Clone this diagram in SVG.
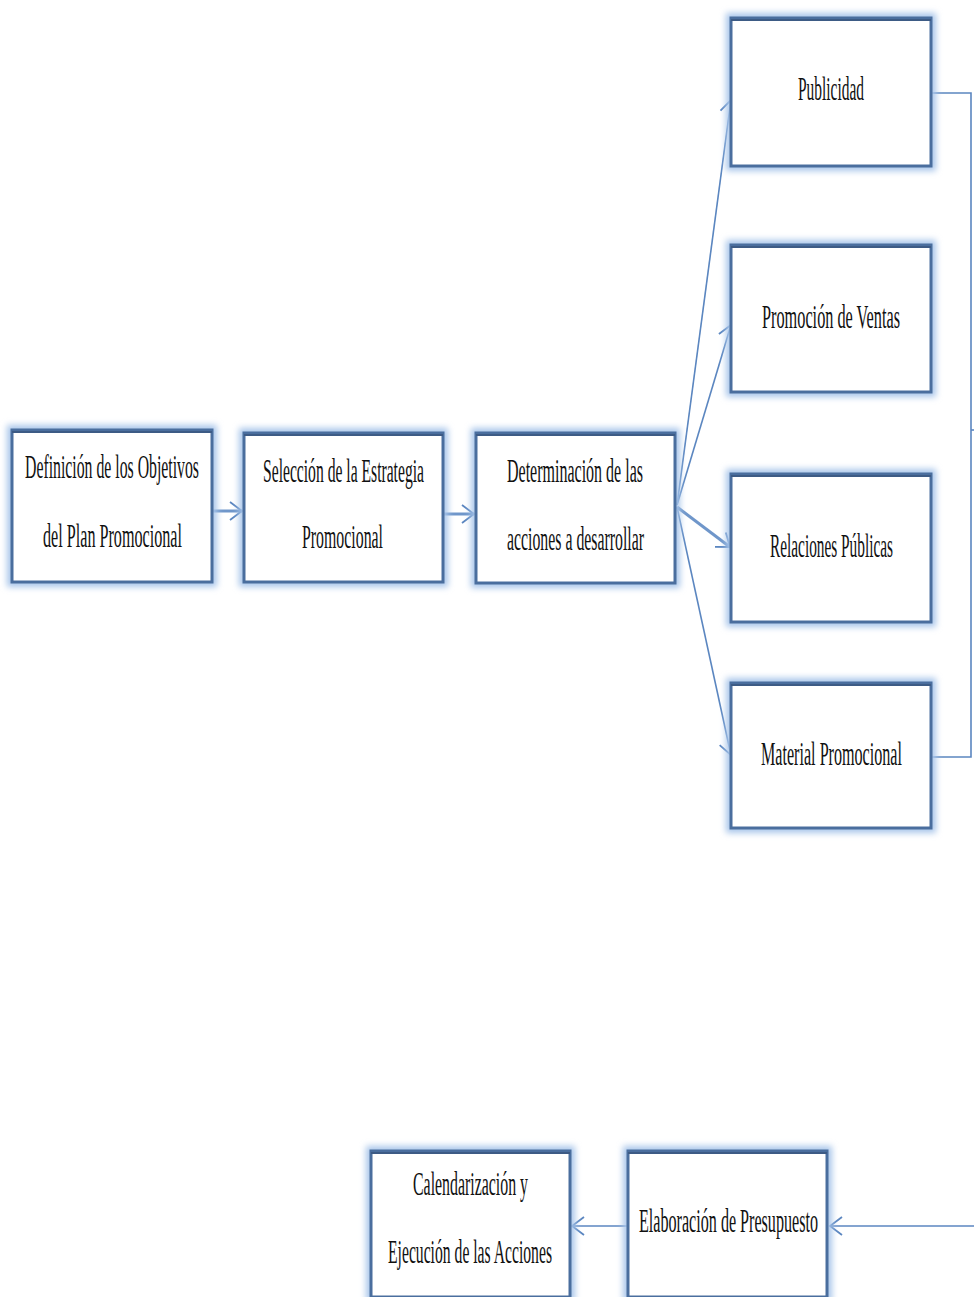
<svg xmlns="http://www.w3.org/2000/svg" width="974" height="1297" viewBox="0 0 974 1297">
<style>
.glow{fill:none;stroke:#A9C6EA;stroke-width:10;filter:url(#blur)}
.box{fill:#FFFFFF;stroke:#4A6E9E;stroke-width:3}
.top{stroke:#3D5B85;stroke-width:2}
.lbl{font-family:"Liberation Serif","Times New Roman",serif;font-size:33px;fill:#111111;text-anchor:middle}
.con{fill:none;stroke:#5B86C0;stroke-width:1.6}
.thick{stroke-width:3;stroke:#6F96CA}
</style>
<defs>
<filter id="blur" x="-20%" y="-20%" width="140%" height="140%"><feGaussianBlur stdDeviation="3"/></filter>
<marker id="arr" markerWidth="16" markerHeight="22" refX="14" refY="11" orient="auto" markerUnits="userSpaceOnUse">
<path d="M2,2 L14,11 L2,20" fill="none" stroke="#5B86C0" stroke-width="1.8"/>
</marker>
</defs>

<g id="connectors">
<path class="con thick" d="M212,511 H242" marker-end="url(#arr)"/>
<path class="con thick" d="M443,514 H474" marker-end="url(#arr)"/>
<path class="con" d="M677,505 L731,100" marker-end="url(#arr)"/>
<path class="con" d="M677,505 L731,325" marker-end="url(#arr)"/>
<path class="con thick" d="M677,507 L730,547" marker-end="url(#arr)"/>
<path class="con" d="M677,507 L731,755" marker-end="url(#arr)"/>
<path class="con" d="M931,93 H971 V757 H931"/>
<path class="con" d="M971,430 H976"/>
<path class="con" d="M976,1226 H830" marker-end="url(#arr)"/>
<path class="con" d="M627,1226 H572" marker-end="url(#arr)"/>
</g>

<g id="n-definicion">
<rect class="glow" x="12" y="430" width="200" height="152"/>
<rect class="box" x="12" y="430" width="200" height="152"/>
<line class="top" x1="12" y1="432" x2="212" y2="432"/>
<text class="lbl" transform="translate(112,478) scale(0.5,1)" x="0" y="0" textLength="348" lengthAdjust="spacingAndGlyphs">Definición de los Objetivos</text>
<text class="lbl" transform="translate(112.5,547) scale(0.5,1)" x="0" y="0" textLength="278" lengthAdjust="spacingAndGlyphs">del Plan  Promocional</text>
</g>

<g id="n-seleccion">
<rect class="glow" x="244" y="433" width="199" height="149"/>
<rect class="box" x="244" y="433" width="199" height="149"/>
<line class="top" x1="244" y1="435" x2="443" y2="435"/>
<text class="lbl" transform="translate(343.5,482) scale(0.5,1)" x="0" y="0" textLength="322" lengthAdjust="spacingAndGlyphs">Selección de la Estrategia</text>
<text class="lbl" transform="translate(342.5,548) scale(0.5,1)" x="0" y="0" textLength="162" lengthAdjust="spacingAndGlyphs">Promocional</text>
</g>

<g id="n-determinacion">
<rect class="glow" x="476" y="433" width="199" height="150"/>
<rect class="box" x="476" y="433" width="199" height="150"/>
<line class="top" x1="476" y1="435" x2="675" y2="435"/>
<text class="lbl" transform="translate(575,482) scale(0.5,1)" x="0" y="0" textLength="272" lengthAdjust="spacingAndGlyphs">Determinación de las</text>
<text class="lbl" transform="translate(575.5,550) scale(0.5,1)" x="0" y="0" textLength="274" lengthAdjust="spacingAndGlyphs">acciones a desarrollar</text>
</g>

<g id="n-publicidad">
<rect class="glow" x="731" y="18" width="200" height="148"/>
<rect class="box" x="731" y="18" width="200" height="148"/>
<line class="top" x1="731" y1="20" x2="931" y2="20"/>
<text class="lbl" transform="translate(831,100) scale(0.5,1)" x="0" y="0" textLength="132" lengthAdjust="spacingAndGlyphs">Publicidad</text>
</g>

<g id="n-promocion">
<rect class="glow" x="731" y="245" width="200" height="147"/>
<rect class="box" x="731" y="245" width="200" height="147"/>
<line class="top" x1="731" y1="247" x2="931" y2="247"/>
<text class="lbl" transform="translate(831,328) scale(0.5,1)" x="0" y="0" textLength="276" lengthAdjust="spacingAndGlyphs">Promoción de Ventas</text>
</g>

<g id="n-relaciones">
<rect class="glow" x="731" y="474" width="200" height="148"/>
<rect class="box" x="731" y="474" width="200" height="148"/>
<line class="top" x1="731" y1="476" x2="931" y2="476"/>
<text class="lbl" transform="translate(831.5,557) scale(0.5,1)" x="0" y="0" textLength="246" lengthAdjust="spacingAndGlyphs">Relaciones Públicas</text>
</g>

<g id="n-material">
<rect class="glow" x="731" y="683" width="200" height="145"/>
<rect class="box" x="731" y="683" width="200" height="145"/>
<line class="top" x1="731" y1="685" x2="931" y2="685"/>
<text class="lbl" transform="translate(831.5,765) scale(0.5,1)" x="0" y="0" textLength="282" lengthAdjust="spacingAndGlyphs">Material Promocional</text>
</g>

<g id="n-calendarizacion">
<rect class="glow" x="371" y="1151" width="199" height="146"/>
<rect class="box" x="371" y="1151" width="199" height="146"/>
<line class="top" x1="371" y1="1153" x2="570" y2="1153"/>
<text class="lbl" transform="translate(470.5,1195) scale(0.5,1)" x="0" y="0" textLength="230" lengthAdjust="spacingAndGlyphs">Calendarización y</text>
<text class="lbl" transform="translate(470,1263) scale(0.5,1)" x="0" y="0" textLength="328" lengthAdjust="spacingAndGlyphs">Ejecución de las Acciones</text>
</g>

<g id="n-elaboracion">
<rect class="glow" x="628" y="1151" width="199" height="146"/>
<rect class="box" x="628" y="1151" width="199" height="146"/>
<line class="top" x1="628" y1="1153" x2="827" y2="1153"/>
<text class="lbl" transform="translate(728.5,1232) scale(0.5,1)" x="0" y="0" textLength="358" lengthAdjust="spacingAndGlyphs">Elaboración de Presupuesto</text>
</g>
</svg>
